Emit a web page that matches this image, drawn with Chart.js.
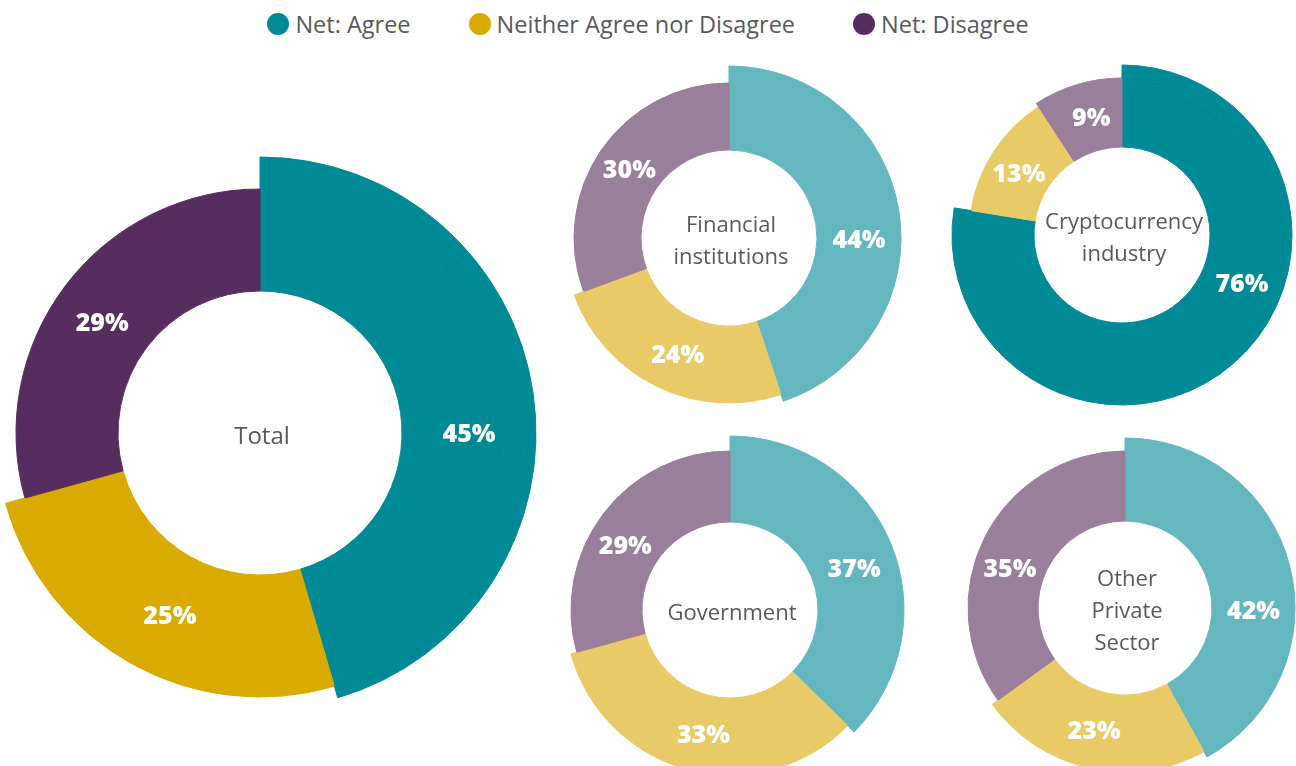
<!DOCTYPE html>
<html>
<head>
<meta charset="utf-8">
<script src="https://cdn.jsdelivr.net/npm/chart.js@4.4.1/dist/chart.umd.min.js"></script>
<style>
    body { margin: 0; background: #fff; width: 1296px; height: 766px; overflow: hidden; position: relative; font-family: 'Open Sans', sans-serif; }
    #legend { position: absolute; top: 8px; left: 0; width: 1296px; display: flex; justify-content: center; gap: 58px; }
    .item { display: flex; align-items: center; font-size: 23.5px; color: #58595b; line-height: 32px; }
    .dot { width: 22px; height: 22px; border-radius: 50%; margin-right: 6px; }
    canvas { position: absolute; }
</style>
</head>
<body>
<div id="legend"></div>
<canvas id="cTotal"></canvas>
<canvas id="cFinancial"></canvas>
<canvas id="cCrypto"></canvas>
<canvas id="cGovernment"></canvas>
<canvas id="cOther"></canvas>
<script>
// data
const categories = ['Net: Agree', 'Neither Agree nor Disagree', 'Net: Disagree'];
const total = [45, 25, 29];
const financial = [44, 24, 30];
const crypto = [76, 13, 9];
const government = [37, 33, 29];
const otherPrivate = [42, 23, 35];

const dark = ['#008a96', '#d9ab00', '#572c5f'];
const light = ['#64b7bf', '#e8cb67', '#9a7f9c'];

// styling per doughnut: center, hole radius and outer radius of each segment
const layouts = [
    { id: 'cTotal', values: total, title: ['Total'], titleSize: 24, cx: 260, cy: 433, inner: 142, radii: [276, 264, 244], colors: dark, labelAt: [0.55, 0.47, 0.48] },
    { id: 'cFinancial', values: financial, title: ['Financial', 'institutions'], titleSize: 22, cx: 729, cy: 238, inner: 88, radii: [172, 165, 155], colors: light, labelAt: [0.56, 0.48, 0.5] },
    { id: 'cCrypto', values: crypto, title: ['Cryptocurrency', 'industry'], titleSize: 22, cx: 1122, cy: 235, inner: 88, radii: [170, 153, 157], colors: [dark[0], light[1], light[2]], labelAt: [0.4, 0.46, 0.56] },
    { id: 'cGovernment', values: government, title: ['Government'], titleSize: 22, cx: 730, cy: 610, inner: 88, radii: [174, 165, 159], colors: light, labelAt: [0.53, 0.48, 0.45] },
    { id: 'cOther', values: otherPrivate, title: ['Other', 'Private', 'Sector'], titleSize: 22, cx: 1125, cy: 608, inner: 87, radii: [170, 164, 157], colors: light, labelAt: [0.6, 0.52, 0.44] }
];

// legend
const legend = document.getElementById('legend');
categories.forEach((c, i) => {
    const item = document.createElement('div');
    item.className = 'item';
    item.innerHTML = '<span class="dot" style="background:' + dark[i] + '"></span>' + c;
    legend.appendChild(item);
});

// one ring per radius step, outermost first; segments shorter than the ring are transparent
function buildRings(values, radii, inner, colors) {
    const levels = [...new Set(radii)].sort((a, b) => b - a);
    return levels.map((r, i) => {
        const next = i + 1 < levels.length ? levels[i + 1] : inner;
        const bg = values.map((v, j) => radii[j] >= r ? colors[j] : 'rgba(0,0,0,0)');
        return { label: 'ring' + i, data: values, backgroundColor: bg, borderColor: bg, borderWidth: 1, weight: r - next };
    });
}

const segLabels = {
    id: 'segLabels',
    afterDatasetsDraw(chart, args, opts) {
        const ctx = chart.ctx;
        const meta = chart.getDatasetMeta(chart.data.datasets.length - 1);
        ctx.save();
        ctx.textAlign = 'center';
        ctx.textBaseline = 'middle';
        ctx.fillStyle = '#ffffff';
        ctx.font = '800 25px "Open Sans"';
        meta.data.forEach((arc, i) => {
            const p = arc.getProps(['x', 'y', 'startAngle', 'endAngle', 'innerRadius'], true);
            const a = p.startAngle + (p.endAngle - p.startAngle) * opts.labelAt[i];
            const r = (p.innerRadius + opts.radii[i]) / 2;
            ctx.fillText(opts.values[i] + '%', p.x + Math.cos(a) * r, p.y + Math.sin(a) * r + 2);
        });
        const c = meta.data[0];
        ctx.fillStyle = '#58595b';
        ctx.font = '400 ' + opts.titleSize + 'px "Open Sans"';
        const lh = 32;
        opts.title.forEach((t, k) => {
            ctx.fillText(t, c.x + 2, c.y + 4 + (k - (opts.title.length - 1) / 2) * lh);
        });
        ctx.restore();
    }
};

layouts.forEach(l => {
    const rMax = Math.max(...l.radii);
    const pad = 6;
    const size = 2 * (rMax + pad);
    const canvas = document.getElementById(l.id);
    canvas.width = size;
    canvas.height = size;
    canvas.style.width = size + 'px';
    canvas.style.height = size + 'px';
    canvas.style.left = (l.cx - rMax - pad) + 'px';
    canvas.style.top = (l.cy - rMax - pad) + 'px';

    new Chart(canvas.getContext('2d'), {
        type: 'doughnut',
        data: {
            labels: categories,
            datasets: buildRings(l.values, l.radii, l.inner, l.colors)
        },
        options: {
            responsive: false,
            animation: false,
            events: [],
            radius: rMax,
            cutout: (l.inner / rMax * 100) + '%',
            layout: { padding: 0 },
            plugins: {
                legend: { display: false },
                tooltip: { enabled: false },
                segLabels: { values: l.values, radii: l.radii, labelAt: l.labelAt, title: l.title, titleSize: l.titleSize }
            }
        },
        plugins: [segLabels]
    });
});
</script>
</body>
</html>
